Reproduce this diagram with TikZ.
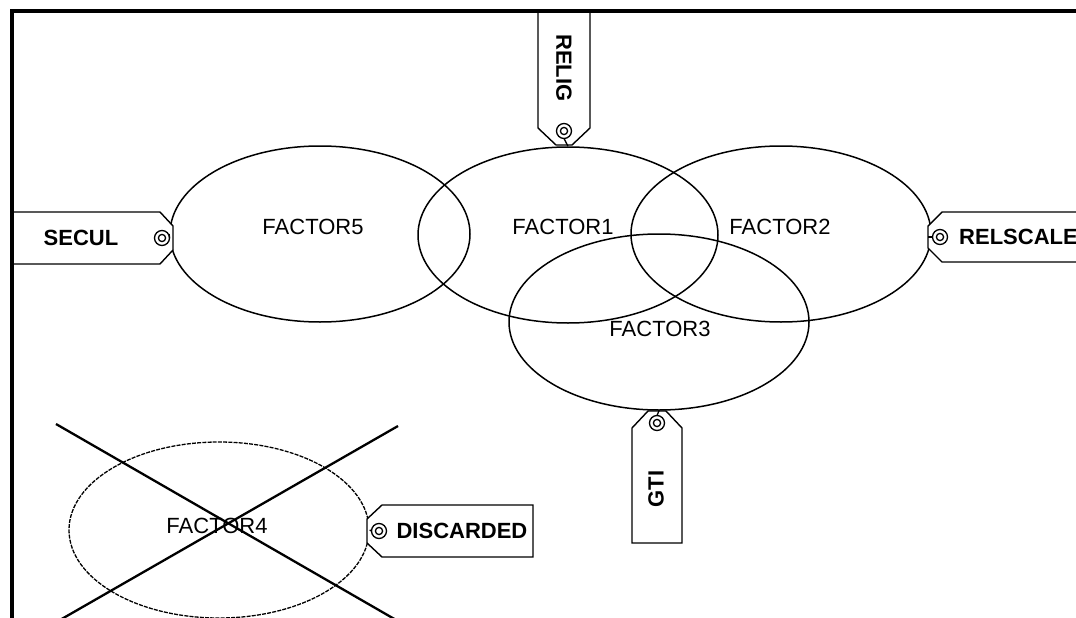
\documentclass[tikz,border=0pt]{standalone}
\usepackage{fontspec}
\setmainfont{Liberation Sans}
\usetikzlibrary{shapes.geometric}
\begin{document}
\begin{tikzpicture}[x=1pt,y=-1pt,
  factor/.style={draw, ellipse, line width=1.5pt, minimum width=300pt,
    minimum height=176pt, inner sep=0pt},
  dropped/.style={factor, dash pattern=on 4pt off 1.2pt, line width=1.3pt},
  flabel/.style={font=\fontsize{22}{24}\selectfont, inner sep=0pt},
  tagline/.style={draw, line width=1.4pt, fill=white, line join=miter},
  tlabel/.style={font=\fontsize{22}{24}\selectfont\bfseries, inner sep=0pt},
  eyelet/.style={line width=1.3pt},
  strike/.style={line width=2.3pt},
  frameline/.style={line width=4pt}]
\useasboundingbox (0,0) rectangle (1076,618);
\clip (0,0) rectangle (1076,618);

% factor ellipses
\node[factor] (f5) at (320,234) {};
\node[factor] (f1) at (568,235) {};
\node[factor] (f2) at (781,234) {};
\node[factor] (f3) at (659,322) {};
\node[dropped] (f4) at (219,530) {};

\node[flabel] (t5) at (313,227) {FACTOR5};
\node[flabel] (t1) at (563,227) {FACTOR1};
\node[flabel] (t2) at (780,227) {FACTOR2};
\node[flabel] (t3) at (660,329) {FACTOR3};
\node[flabel] (t4) at (217,526) {FACTOR4};

% strike-through of the discarded factor
\coordinate (xa1) at (56,424);
\coordinate (xa2) at (410,628);
\coordinate (xb1) at (398,426);
\coordinate (xb2) at (46,628);
\draw[strike] (xa1) -- (xa2);
\draw[strike] (xb1) -- (xb2);

% tag RELIG (hangs from the top rule onto FACTOR1)
\draw[tagline] (538,12) -- (538,128) -- (556,145) -- (572,145) -- (590,128) -- (590,12);
\draw[eyelet] (564,131) circle[radius=7.5pt] (564,131) circle[radius=3.6pt];
\coordinate (rg) at (564,138.5);
\draw[eyelet] (rg) -- (f1.north);
\node[tlabel, rotate=-90] (relig) at (564,68) {RELIG};

% tag SECUL (from the left rule onto FACTOR5)
\draw[tagline] (12,212) -- (160,212) -- (173,226) -- (173,250) -- (160,264) -- (12,264);
\draw[eyelet] (162,238) circle[radius=7.5pt] (162,238) circle[radius=3.6pt];
\coordinate (sc) at (169.5,238);
\draw[eyelet] (sc) -- (f5.west);
\node[tlabel] (secul) at (81,238) {SECUL};

% tag RELSCALE (from FACTOR2 off to the right)
\draw[tagline] (1090,212) -- (942,212) -- (928,226) -- (928,248) -- (942,262) -- (1090,262);
\draw[eyelet] (940,237) circle[radius=7.5pt] (940,237) circle[radius=3.6pt];
\coordinate (rs) at (932.5,237);
\draw[eyelet] (rs) -- (928,237);
\node[tlabel, anchor=west] (relscale) at (959,237) {RELSCALE};

% tag GTI (hangs below FACTOR3)
\draw[tagline] (632,543) -- (632,428) -- (648,411) -- (666,411) -- (682,428) -- (682,543) -- cycle;
\draw[eyelet] (657,423) circle[radius=7.5pt] (657,423) circle[radius=3.6pt];
\coordinate (gt) at (657,415.5);
\draw[eyelet] (gt) -- (f3.south);
\node[tlabel, rotate=90] (gti) at (656,489) {GTI};

% tag DISCARDED (on FACTOR4)
\draw[tagline] (533,505) -- (382,505) -- (367,519) -- (367,543) -- (382,557) -- (533,557) -- cycle;
\draw[eyelet] (379,531) circle[radius=7.5pt] (379,531) circle[radius=3.6pt];
\coordinate (dc) at (371.5,531);
\draw[eyelet] (dc) -- (f4.east);
\node[tlabel] (disc) at (462,531) {DISCARDED};

% frame rules
\coordinate (fr1) at (11.5,630);
\coordinate (fr2) at (11.5,11.5);
\coordinate (fr3) at (1090,11.5);
\draw[frameline] (fr1) -- (fr2) -- (fr3);
\end{tikzpicture}
\end{document}
